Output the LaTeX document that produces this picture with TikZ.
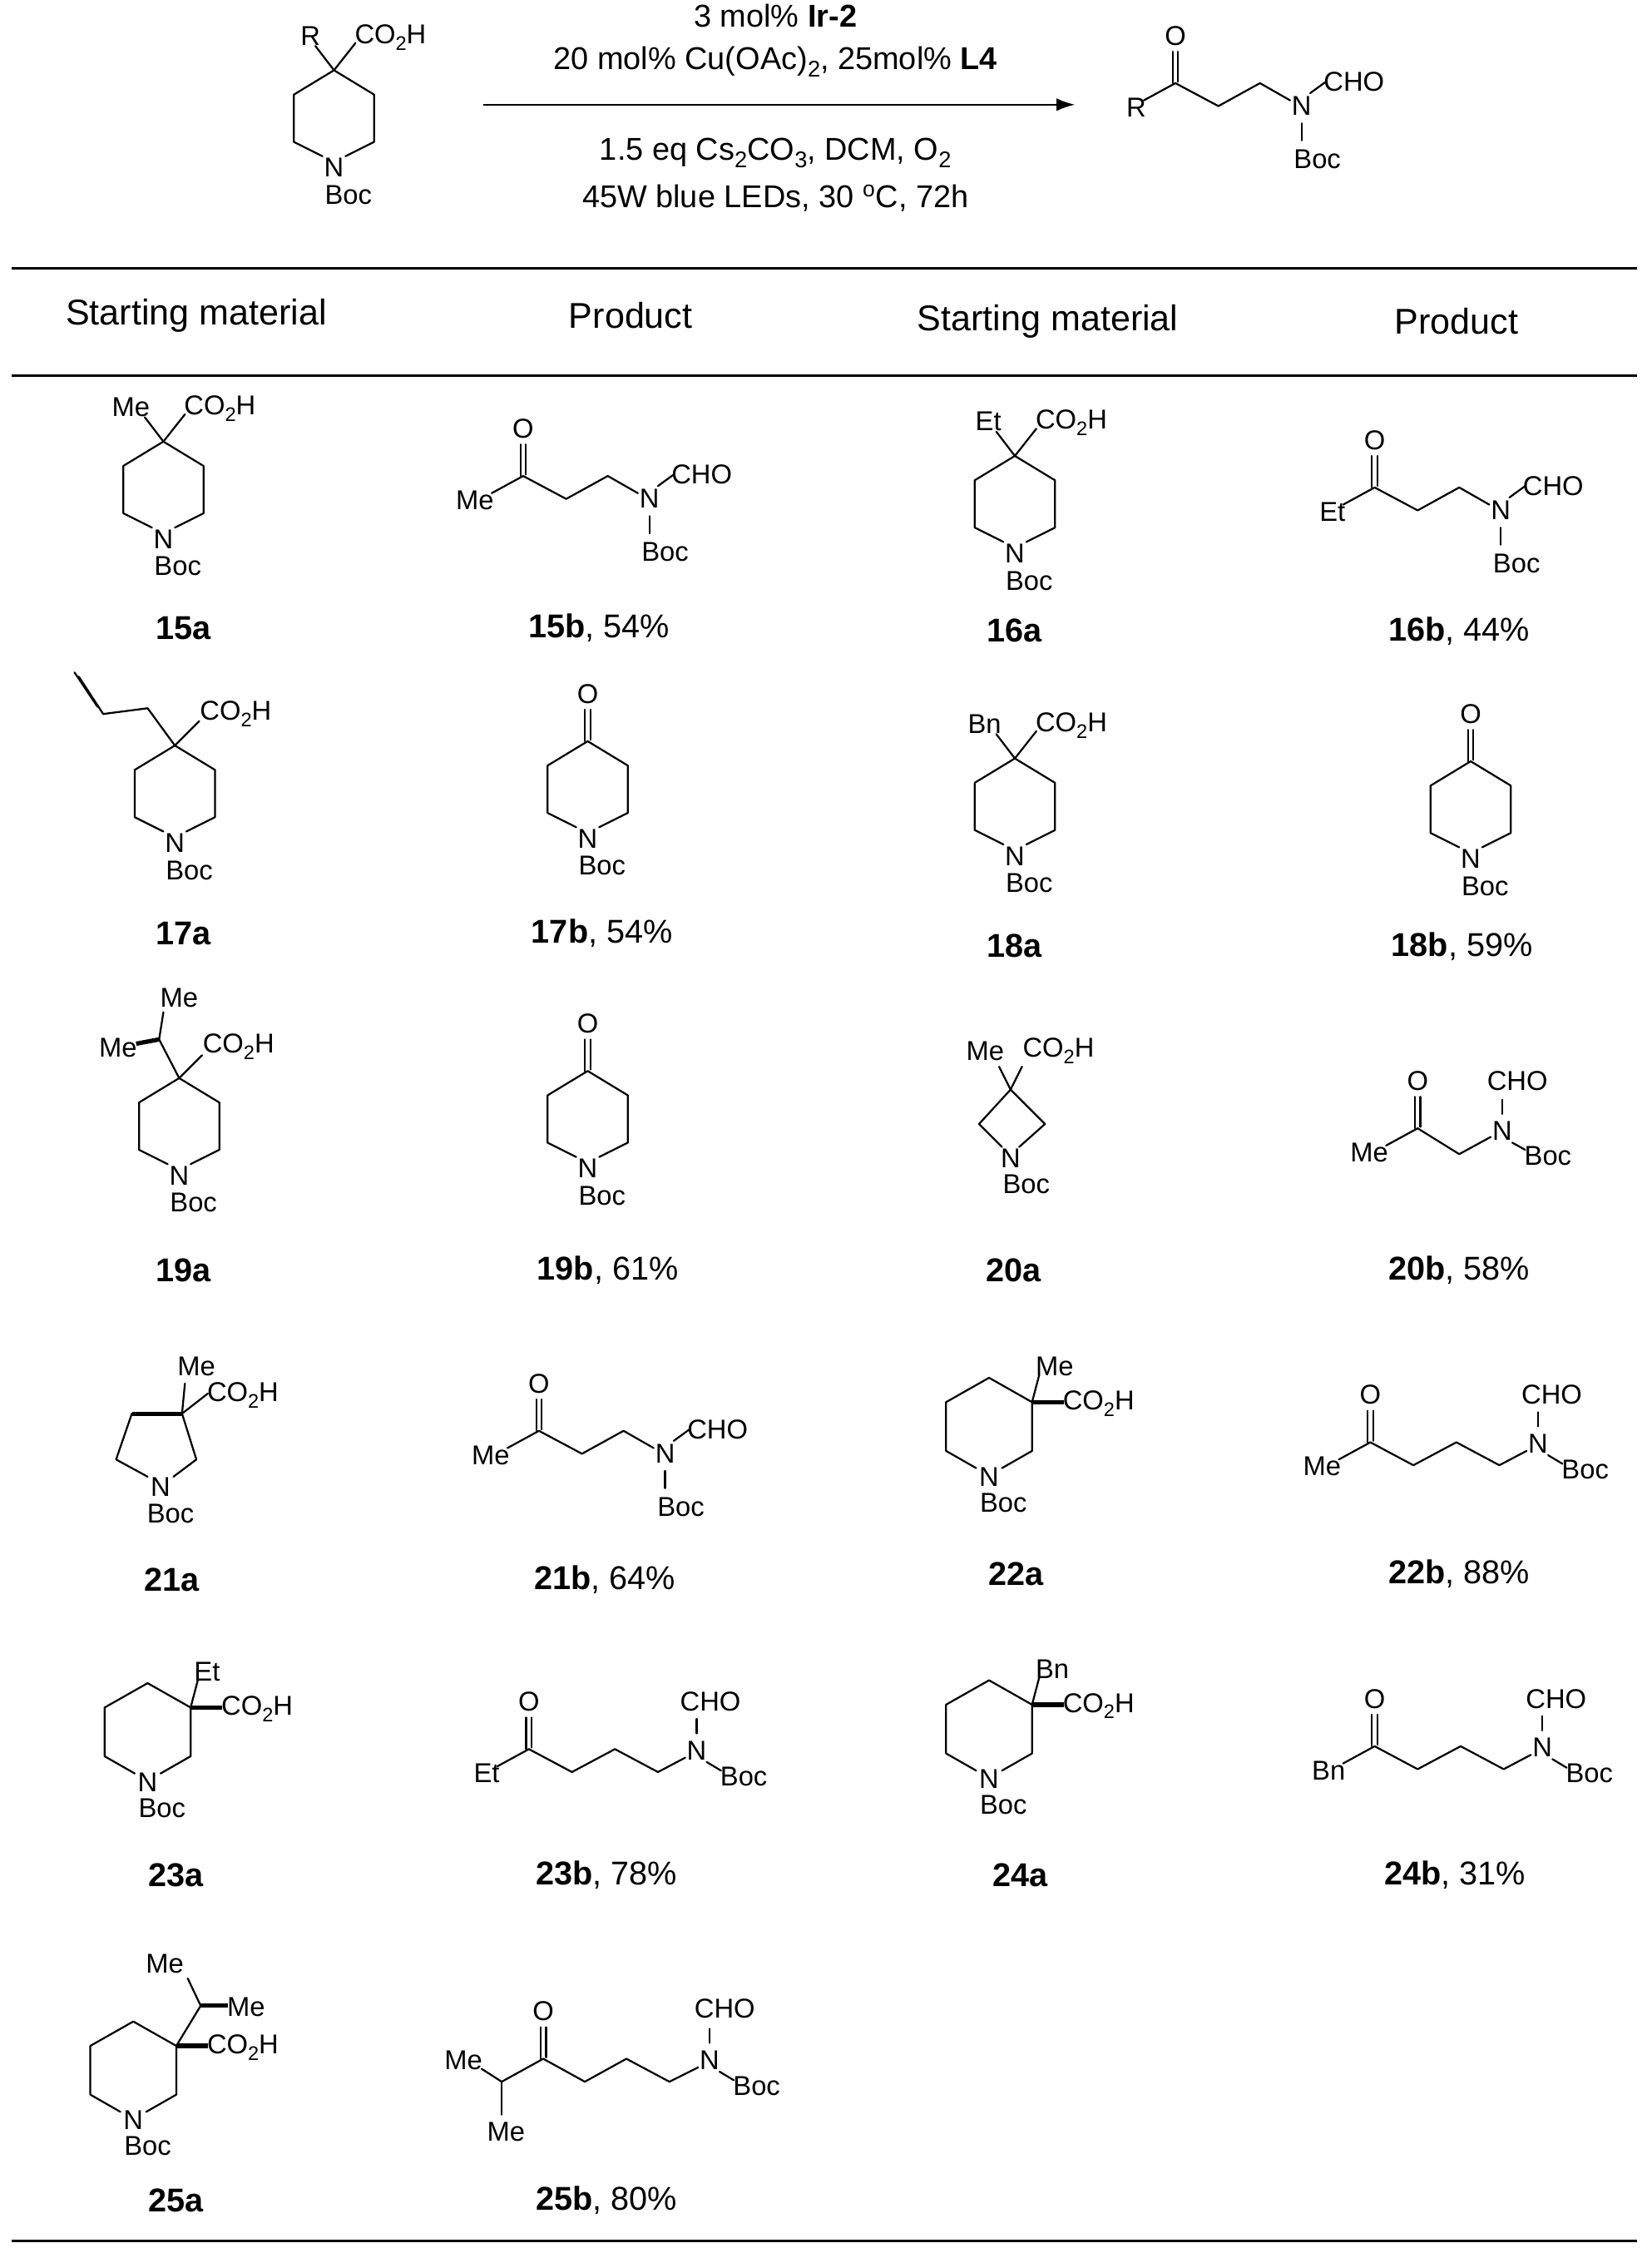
\documentclass[tikz,border=0pt]{standalone}
\usepackage{fontspec}
\setmainfont{Liberation Sans}
\usetikzlibrary{arrows.meta}
\newcommand\sbs[1]{\raisebox{-0.45ex}{\scalebox{0.72}{#1}}}
\newcommand\CO{CO\sbs{2}H}
\begin{document}
\begin{tikzpicture}[x=1pt,y=-1pt,
  bd/.style={line width=1.3pt,line cap=round,line join=round},
  bb/.style={line width=3pt},
  atm/.style={inner sep=0.3pt,font=\fontsize{19}{19}\selectfont},
  cpd/.style={inner sep=1pt,font=\fontsize{23}{23}\selectfont},
  hd/.style={inner sep=1pt,font=\fontsize{25}{25}\selectfont},
  cond/.style={inner sep=1pt,font=\fontsize{22}{22}\selectfont}]
\newcommand\pipring{%
 \draw[bd] (-8,60)--(-28,50)--(-28,17)--(0,0)--(28,17)--(28,50)--(8,60);
 \node[atm] (N) at (0,68){N}; \node[atm] (B) at (10,87){Boc};}
\newcommand\quatsub[1]{%
 \draw[bd] (0,0)--(-13,-17); \node[atm,anchor=east] at (-9,-24){#1};
 \draw[bd] (0,0)--(15,-19); \node[atm,anchor=west] at (14,-23){\CO};}
\newcommand\keto{%
 \draw[bd] (-1.9,0)--(-1.9,-22) (1.9,-1)--(1.9,-22); \node[atm] (O) at (0,-33){O};}
\newcommand\chainA[1]{%
 \keto
 \draw[bd] (0,0)--(-22,12); \node[atm,anchor=east] at (-20,17){#1};
 \draw[bd] (0,0)--(30,16)--(59,0)--(80,12);
 \node[atm] (N) at (88,16){N};
 \draw[bd] (94,7)--(105,-1); \node[atm,anchor=west] at (103,-1){CHO};
 \draw[bd] (88,28)--(88,40); \node[atm] at (99,53){Boc};}
\newcommand\chainB[1]{%
 \keto
 \draw[bd] (0,0)--(-22,12); \node[atm,anchor=east] at (-20,17){#1};
 \draw[bd] (0,0)--(30,16)--(60,0)--(90,16)--(109,6);
 \node[atm] (N) at (117,1){N};
 \draw[bd] (117,-11)--(117,-21); \node[atm,anchor=west] at (105,-33){CHO};
 \draw[bd] (124,9)--(134,15); \node[atm,anchor=west] at (133,19){Boc};}
\newcommand\pipthree{%
 \draw[bd] (0,0)--(-30,-17)--(-60,0)--(-60,34)--(-39,46) (-21,46)--(0,34)--(0,0);
 \node[atm] (N) at (-30,52){N}; \node[atm] at (-20,70){Boc};}
\newcommand\threesub[1]{%
 \draw[bd] (0,0)--(5,-19); \node[atm,anchor=south west] at (2,-18){#1};
 \draw[bb] (0,0)--(22,0); \node[atm,anchor=west] at (21,1){\CO};}
\useasboundingbox (0,0) rectangle (1152,1568);
% rules
\draw[line width=1.8pt] (8,187)--(1142,187);
\draw[line width=1.3pt] (8,262)--(1142,262);
\draw[line width=1.8pt] (8,1563)--(1142,1563);
\node[hd] at (137,220){Starting material};
\node[hd] at (440,220){Product};
\node[hd] at (731,224){Starting material};
\node[hd] at (1016,224){Product};
% header reaction
\begin{scope}[shift={(233,49)}]\pipring\quatsub{R}\end{scope}
\node[cond] (c1) at (541,11){3 mol\% \textbf{Ir-2}};
\node[cond] (c2) at (541,43){20 mol\% Cu(OAc)\sbs{2}, 25mol\% \textbf{L4}};
\node[cond] (c3) at (541,107){1.5 eq Cs\sbs{2}CO\sbs{3}, DCM, O\sbs{2}};
\node[cond] (c4) at (541,138){45W blue LEDs, 30 \textsuperscript{o}C, 72h};
\coordinate (a1) at (337,73); \coordinate (a2) at (750,73);
\draw[line width=1.4pt,-{Latex[length=13pt,width=9pt]}] (a1)--(a2);
\begin{scope}[shift={(820,58)}]\chainA{R}\end{scope}
% row 1
\begin{scope}[shift={(114,308)}]\pipring\quatsub{Me}\end{scope}
\begin{scope}[shift={(365,332)}]\chainA{Me}\end{scope}
\begin{scope}[shift={(708,318)}]\pipring\quatsub{Et}\end{scope}
\begin{scope}[shift={(959,340)}]\chainA{Et}\end{scope}
\node[cpd] at (128,438){\textbf{15a}};
\node[cpd] at (418,438){\textbf{15b}, 54\%};
\node[cpd] at (708,440){\textbf{16a}};
\node[cpd] at (1018,440){\textbf{16b}, 44\%};
% row 2
\begin{scope}[shift={(122,520)}]\pipring
 \draw[bd] (0,0)--(-19,-26)--(-50,-22)--(-67,-48);
 \draw[bd] (-54,-27)--(-70,-51);
 \draw[bd] (0,0)--(17,-17); \node[atm,anchor=west] at (17,-22){\CO};\end{scope}
\begin{scope}[shift={(410,517)}]\pipring\keto\end{scope}
\begin{scope}[shift={(708,529)}]\pipring\quatsub{Bn}\end{scope}
\begin{scope}[shift={(1026,531)}]\pipring\keto\end{scope}
\node[cpd] at (128,651){\textbf{17a}};
\node[cpd] at (420,651){\textbf{17b}, 54\%};
\node[cpd] at (708,660){\textbf{18a}};
\node[cpd] at (1020,660){\textbf{18b}, 59\%};
% row 3
\begin{scope}[shift={(125,752)}]\pipring
 \draw[bd] (0,0)--(-14,-27)--(-11,-46); \node[atm] at (0,-56){Me};
 \draw[bb] (-14,-27)--(-30,-24); \node[atm,anchor=east] at (-29,-21){Me};
 \draw[bd] (0,0)--(16,-16); \node[atm,anchor=west] at (16,-22){\CO};\end{scope}
\begin{scope}[shift={(410,747)}]\pipring\keto\end{scope}
\begin{scope}[shift={(705,760)}]
 \draw[bd] (-6,40)--(-22,24)--(0,0)--(24,24)--(6,40);
 \node[atm] at (0,48){N}; \node[atm] at (11,66){Boc};
 \draw[bd] (0,0)--(-8,-16); \node[atm,anchor=east] at (-4,-27){Me};
 \draw[bd] (0,0)--(8,-16); \node[atm,anchor=west] at (8,-27){\CO};\end{scope}
\begin{scope}[shift={(989,787)}]\keto
 \draw[bd] (0,0)--(-22,12); \node[atm,anchor=east] at (-20,17){Me};
 \draw[bd] (0,0)--(29,18)--(51,6);
 \node[atm] (N) at (59,2){N};
 \draw[bd] (59,-10)--(59,-20); \node[atm,anchor=west] at (48,-33){CHO};
 \draw[bd] (66,10)--(75,15); \node[atm,anchor=west] at (74,19){Boc};\end{scope}
\node[cpd] at (128,886){\textbf{19a}};
\node[cpd] at (424,886){\textbf{19b}, 61\%};
\node[cpd] at (707,886){\textbf{20a}};
\node[cpd] at (1018,886){\textbf{20b}, 58\%};
% row 4
\begin{scope}[shift={(127,986)}]
 \draw[bb] (0,0)--(-35,0);
 \draw[bd] (-35,0)--(-46,32)--(-24,44) (-6,44)--(10,32)--(0,0);
 \node[atm] at (-15,51){N}; \node[atm] at (-8,70){Boc};
 \draw[bd] (0,0)--(2,-21); \node[atm] at (10,-33){Me};
 \draw[bd] (0,0)--(18,-14); \node[atm,anchor=west] at (17,-13){\CO};\end{scope}
\begin{scope}[shift={(376,998)}]\chainA{Me}\end{scope}
\begin{scope}[shift={(720,978)}]\pipthree\threesub{Me}\end{scope}
\begin{scope}[shift={(956,1006)}]\chainB{Me}\end{scope}
\node[cpd] at (120,1102){\textbf{21a}};
\node[cpd] at (422,1102){\textbf{21b}, 64\%};
\node[cpd] at (709,1098){\textbf{22a}};
\node[cpd] at (1018,1098){\textbf{22b}, 88\%};
% row 5
\begin{scope}[shift={(133,1191)}]\pipthree\threesub{Et}\end{scope}
\begin{scope}[shift={(369,1220)}]\chainB{Et}\end{scope}
\begin{scope}[shift={(720,1189)}]\pipthree\threesub{Bn}\end{scope}
\begin{scope}[shift={(959,1218)}]\chainB{Bn}\end{scope}
\node[cpd] at (123,1308){\textbf{23a}};
\node[cpd] at (423,1308){\textbf{23b}, 78\%};
\node[cpd] at (712,1308){\textbf{24a}};
\node[cpd] at (1015,1308){\textbf{24b}, 31\%};
% row 6
\begin{scope}[shift={(123,1427)}]\pipthree
 \draw[bd] (0,0)--(17,-28)--(8,-47); \node[atm] at (-8,-57){Me};
 \draw[bb] (17,-28)--(36,-28); \node[atm,anchor=west] at (35,-27){Me};
 \draw[bb] (0,0)--(22,0); \node[atm,anchor=west] at (21,1){\CO};\end{scope}
\begin{scope}[shift={(379,1436)}]\keto
 \draw[bd] (0,0)--(-29,16)--(-43,7); \node[atm,anchor=east] at (-42,1){Me};
 \draw[bd] (-29,16)--(-29,39); \node[atm] at (-26,51){Me};
 \draw[bd] (0,0)--(29,16)--(58,0)--(88,16)--(108,6);
 \node[atm] (N) at (116,1){N};
 \draw[bd] (116,-11)--(116,-21); \node[atm,anchor=west] at (105,-35){CHO};
 \draw[bd] (123,9)--(133,15); \node[atm,anchor=west] at (132,19){Boc};\end{scope}
\node[cpd] at (123,1535){\textbf{25a}};
\node[cpd] at (423,1535){\textbf{25b}, 80\%};
\end{tikzpicture}
\end{document}
